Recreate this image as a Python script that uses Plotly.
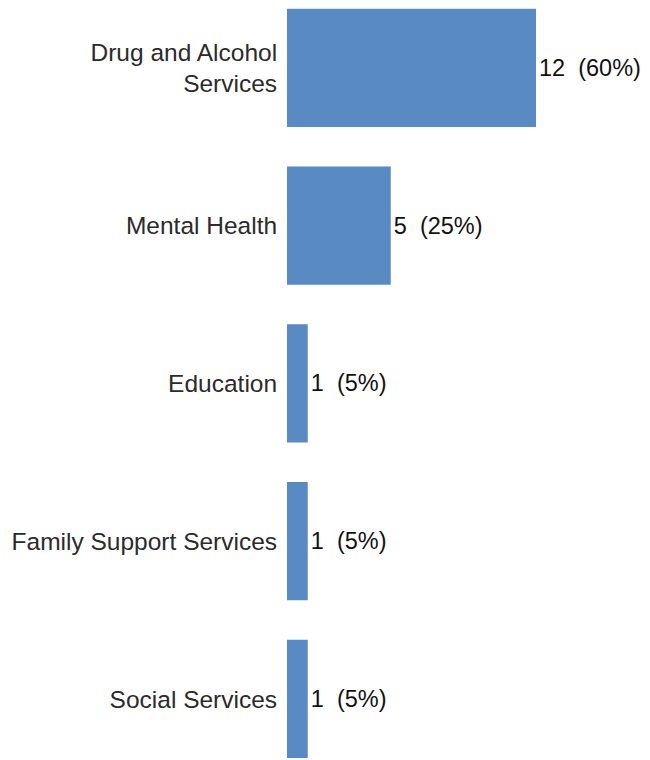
import plotly.graph_objects as go

categories = ["Drug and Alcohol<br>Services", "Mental Health", "Education",
              "Family Support Services", "Social Services"]
counts = [12, 5, 1, 1, 1]
percents = [60, 25, 5, 5, 5]

positions = list(range(len(categories)))
labels = [f"{c}  ({p}%)" for c, p in zip(counts, percents)]

FONT = "Liberation Sans, Arial"
SIZE = 24.5

fig = go.Figure(go.Bar(
    x=counts, y=positions, orientation="h",
    width=0.75,
    marker=dict(color="#5a8ac4", line=dict(width=0)),
    text=labels, textposition="outside", cliponaxis=False,
    textfont=dict(family=FONT, size=23.5, color="#111111"),
))

fig.update_layout(
    width=642, height=752,
    margin=dict(l=279, r=0, t=0, b=0),
    paper_bgcolor="white", plot_bgcolor="white",
    showlegend=False,
    font=dict(family=FONT, size=SIZE, color="#2b2b2b"),
    xaxis=dict(range=[0, 12 * 363 / 249], visible=False, showgrid=False, zeroline=False),
    yaxis=dict(
        tickvals=positions, ticktext=categories,
        range=[4.387, -0.380], showgrid=False, zeroline=False, showline=False,
        ticks="outside", ticklen=4, tickcolor="rgba(0,0,0,0)",
        tickfont=dict(family=FONT, size=SIZE, color="#2b2b2b"),
    ),
)

fig.write_html("out.html")
